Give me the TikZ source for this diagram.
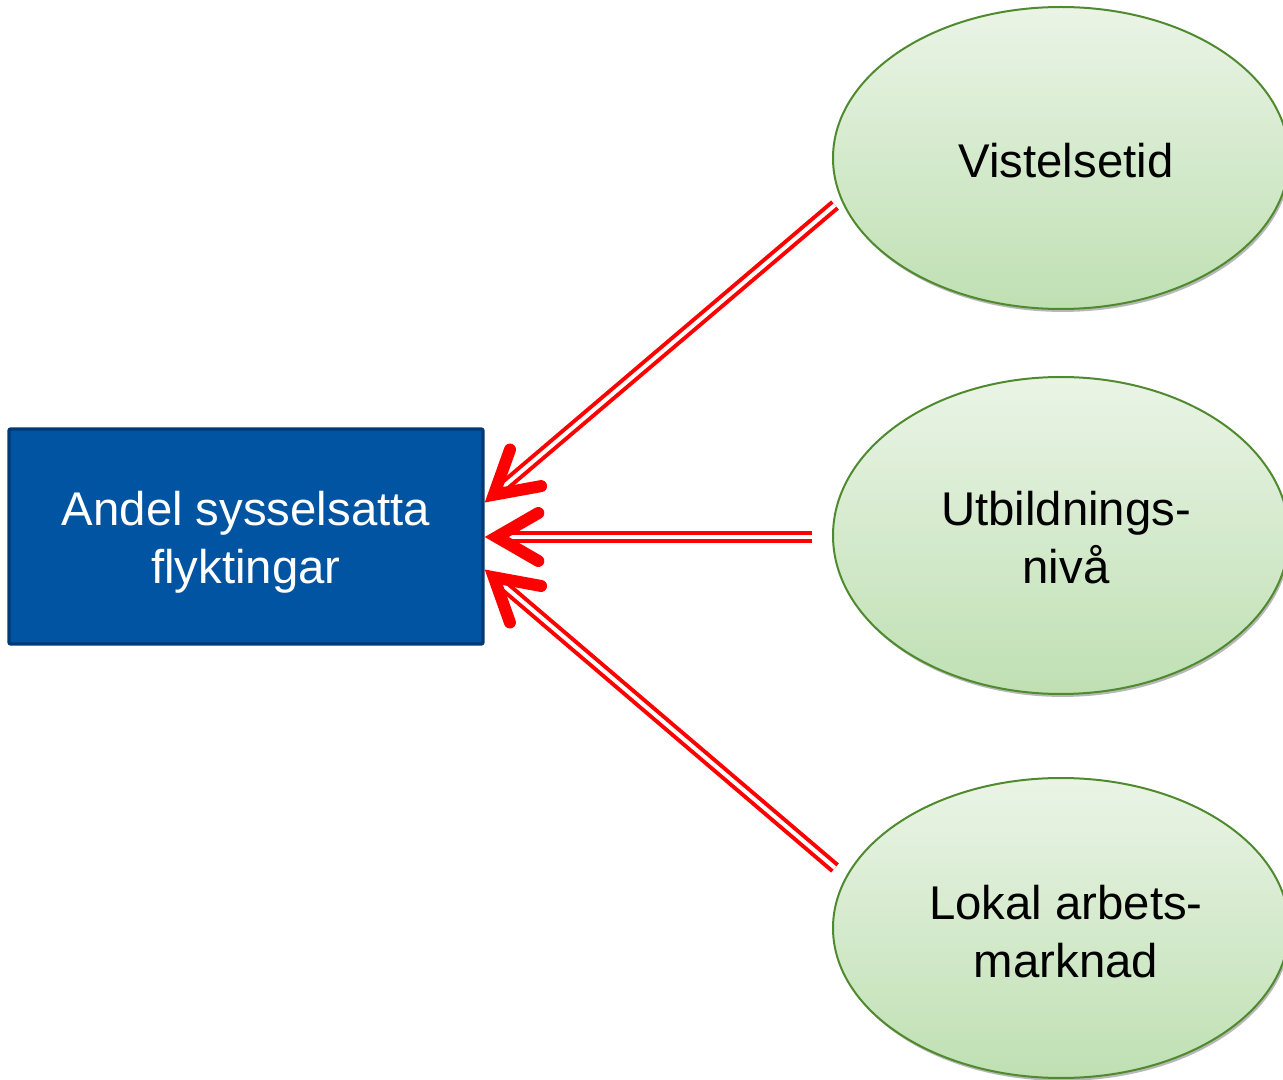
\documentclass[tikz,border=0pt]{standalone}
\usepackage{fontspec}
\setmainfont{Liberation Sans}
\usetikzlibrary{calc,shadows,shapes.geometric}
\definecolor{boxfill}{HTML}{0054A1}
\definecolor{boxdraw}{HTML}{003A75}
\definecolor{elltop}{HTML}{EAF4E6}
\definecolor{ellbot}{HTML}{BFE0B3}
\definecolor{elldraw}{HTML}{4F8A2F}
\definecolor{arrred}{HTML}{FF0000}
\begin{document}
\begin{tikzpicture}[x=0.75pt,y=-0.75pt,
  txt/.style={font=\fontsize{35.5}{43.5}\selectfont, align=center},
  factor/.style={ellipse, draw=elldraw, line width=1.5pt,
    top color=elltop, bottom color=ellbot, minimum width=342pt, inner sep=0pt,
    drop shadow={shadow xshift=1.2pt, shadow yshift=-2.2pt, opacity=0.28, fill=black}},
  ftext/.style={txt, xshift=3.75pt, yshift=-1.8pt},
  target/.style={rectangle, draw=boxdraw, line width=2.6pt, fill=boxfill,
    rounded corners=1.5pt, minimum width=355.5pt, minimum height=161.25pt},
  btext/.style={txt, text=white, yshift=-4.5pt},
  dbl/.style={draw=arrred, double=white, double distance=3pt, line width=3pt},
  head/.style={draw=arrred, line width=9pt, line cap=round, line join=miter}
]
\useasboundingbox (0,0) rectangle (1283,1080);

\node[target, label={[btext]center:Andel sysselsatta\\flyktingar}] (box) at (246,536.5) {};

\node[factor, minimum height=226.5pt, label={[ftext]center:Vistelsetid}] (f1) at (1061,158) {};
\node[factor, minimum height=237.75pt, label={[ftext]center:Utbildnings-\\nivå}] (f2) at (1061,535.5) {};
\node[factor, minimum height=225pt, label={[ftext, yshift=-0.8pt]center:Lokal arbets-\\marknad}] (f3) at (1061,928) {};

\coordinate (s1) at (835,205);
\coordinate (s2) at (812,537);
\coordinate (s3) at (835,868);
\coordinate (t1) at ($(box.east)+(0,-34)$);
\coordinate (t2) at ($(box.east)+(0,0.5)$);
\coordinate (t3) at ($(box.east)+(0,33)$);

\foreach \i in {1,2,3}{
  \coordinate (v\i) at ($(t\i)!9pt!(s\i)$);
  \draw[dbl] (s\i) -- (v\i);
  \draw[head] ($(v\i)!36pt!30:(s\i)$) -- (v\i) -- ($(v\i)!36pt!-30:(s\i)$);
}
\end{tikzpicture}
\end{document}
